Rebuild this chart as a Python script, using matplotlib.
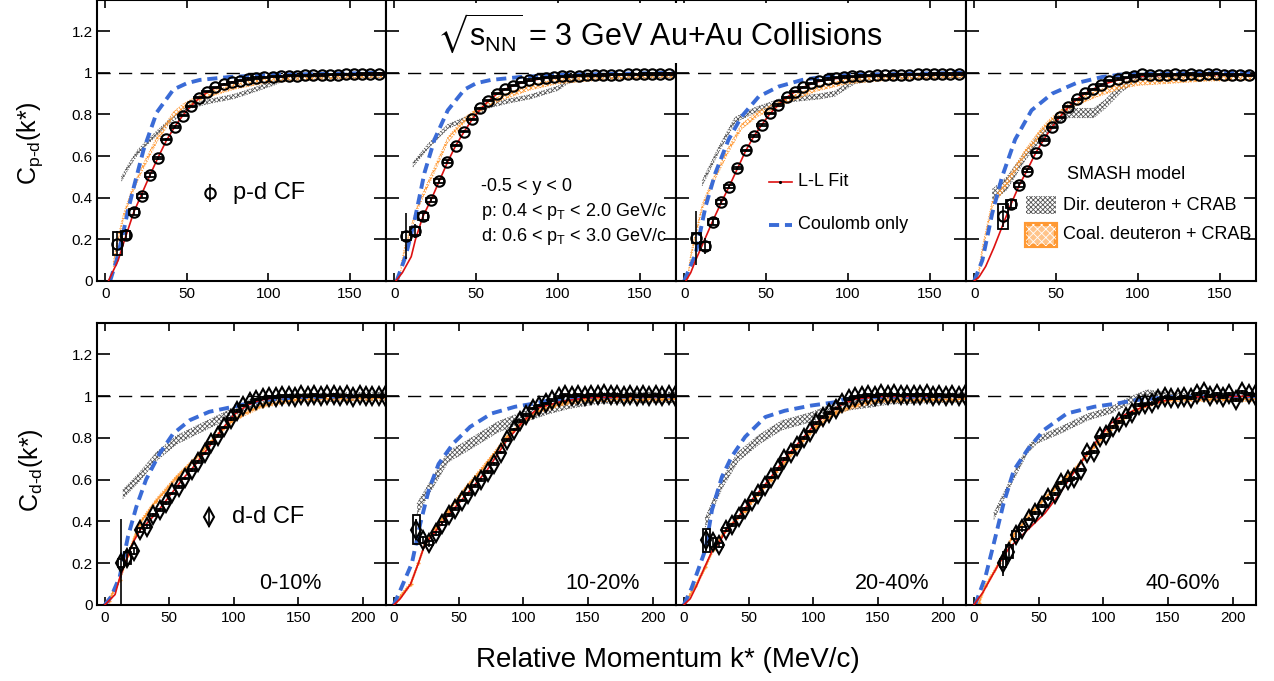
import numpy as np
import matplotlib.pyplot as plt
from matplotlib.patches import Rectangle

plt.rcParams['font.family'] = ['Liberation Sans', 'DejaVu Sans']
plt.rcParams['mathtext.fontset'] = 'custom'
plt.rcParams['mathtext.rm'] = 'Liberation Sans'
plt.rcParams['mathtext.it'] = 'Liberation Sans:italic'
plt.rcParams['mathtext.default'] = 'regular'
plt.rcParams['mathtext.fallback'] = 'stixsans'
plt.rcParams['hatch.linewidth'] = 0.6

centralities = ['0-10%', '10-20%', '20-40%', '40-60%']

# ---------------- p-d correlation functions ----------------
pd_k = [7.5, 12.5, 17.5, 22.5, 27.5, 32.5, 37.5, 42.5, 47.5, 52.5, 57.5, 62.5, 67.5,
        72.5, 77.5, 82.5, 87.5, 92.5, 97.5, 102.5, 107.5, 112.5, 117.5, 122.5, 127.5,
        132.5, 137.5, 142.5, 147.5, 152.5, 157.5, 162.5, 167.5]
nan = np.nan
pd_c_0_10 = [0.18, 0.22, 0.33, 0.41, 0.51, 0.59, 0.68, 0.74, 0.795, 0.84, 0.88, 0.91, 0.93,
             0.945, 0.955, 0.963, 0.97, 0.975, 0.979, 0.982, 0.984, 0.986, 0.987, 0.988,
             0.989, 0.99, 0.991, 0.992, 0.993, 0.993, 0.994, 0.994, 0.995]
pd_c_10_20 = [0.216, 0.24, 0.31, 0.39, 0.48, 0.574, 0.65, 0.718, 0.777, 0.83, 0.867, 0.899,
              0.921, 0.939, 0.955, 0.966, 0.972, 0.977, 0.98, 0.983, 0.985, 0.987, 0.988,
              0.989, 0.99, 0.991, 0.992, 0.993, 0.993, 0.994, 0.994, 0.995, 0.995]
pd_c_20_40 = [0.207, 0.168, 0.285, 0.381, 0.453, 0.542, 0.627, 0.697, 0.75, 0.806, 0.846,
              0.883, 0.91, 0.931, 0.95, 0.963, 0.97, 0.977, 0.98, 0.983, 0.985, 0.987, 0.988,
              0.989, 0.99, 0.991, 0.992, 0.993, 0.993, 0.994, 0.994, 0.995, 0.995]
pd_c_40_60 = [nan, nan, 0.31, 0.37, 0.46, 0.53, 0.617, 0.678, 0.739, 0.787, 0.838, 0.873,
              0.902, 0.921, 0.942, 0.962, 0.97, 0.978, 0.985, 0.993, 0.99, 0.992, 0.99,
              0.993, 0.991, 0.994, 0.99, 0.995, 0.996, 0.992, 0.99, 0.991, 0.988]
pd_stat_0_10 = [0.06, 0.03, 0.015, 0.012, 0.01, 0.008, 0.007, 0.006] + [0.004] * 25
pd_stat_10_20 = [0.11, 0.035, 0.015, 0.012, 0.01, 0.008, 0.007, 0.006] + [0.004] * 25
pd_stat_20_40 = [0.13, 0.04, 0.015, 0.012, 0.01, 0.008, 0.007, 0.006] + [0.004] * 25
pd_stat_40_60 = [nan, nan, 0.05, 0.02, 0.012, 0.01, 0.008, 0.006] + [0.004] * 25
pd_sys_0_10 = [0.055, 0.02, 0.015, 0.01, 0.008, 0.006] + [0.003] * 27
pd_sys_10_20 = [0.02, 0.02, 0.015, 0.01, 0.008, 0.006] + [0.003] * 27
pd_sys_20_40 = [0.025, 0.02, 0.015, 0.01, 0.008, 0.006] + [0.003] * 27
pd_sys_40_60 = [nan, nan, 0.06, 0.02, 0.01, 0.006] + [0.003] * 27

# L-L fit (red) for p-d
pd_fit_k = [[2, 5, 8, 12, 17.5, 22.5, 27.5, 32.5, 37.5, 42.5, 47.5, 52.5, 57.5, 62.5, 67.5, 72.5, 80, 90, 100, 120, 140, 170],
            [1, 5, 10.4, 13, 17.5, 22.5, 27.5, 32.5, 37.5, 42.5, 47.5, 52.5, 57.5, 62.5, 67.5, 72.5, 80, 90, 100, 120, 140, 170],
            [1, 4, 7, 12, 17.5, 22.5, 27.5, 32.5, 37.5, 42.5, 47.5, 52.5, 57.5, 62.5, 67.5, 72.5, 80, 90, 100, 120, 140, 170],
            [0, 3, 7, 12, 17, 22.5, 27.5, 32.5, 37.5, 42.5, 47.5, 52.5, 57.5, 62.5, 67.5, 72.5, 80, 90, 100, 120, 140, 170]]
pd_fit_c = [[0, 0.05, 0.1, 0.2, 0.33, 0.42, 0.51, 0.595, 0.675, 0.74, 0.795, 0.84, 0.878, 0.907, 0.928, 0.943, 0.96, 0.972, 0.98, 0.987, 0.991, 0.995],
            [0, 0.04, 0.117, 0.2, 0.31, 0.39, 0.48, 0.57, 0.65, 0.715, 0.775, 0.825, 0.865, 0.897, 0.92, 0.938, 0.958, 0.972, 0.98, 0.988, 0.992, 0.995],
            [0, 0.04, 0.1, 0.19, 0.29, 0.375, 0.455, 0.54, 0.625, 0.695, 0.752, 0.805, 0.846, 0.882, 0.908, 0.93, 0.955, 0.97, 0.98, 0.988, 0.992, 0.995],
            [0, 0.02, 0.07, 0.16, 0.26, 0.37, 0.46, 0.535, 0.615, 0.68, 0.74, 0.79, 0.835, 0.872, 0.9, 0.922, 0.948, 0.97, 0.982, 0.99, 0.992, 0.99]]

# Coulomb only (blue dashed) for p-d
pd_coul_k = [[3, 7, 11, 14, 17.5, 23.5, 31.6, 41.8, 50, 58, 76, 100, 170],
             [1.5, 7, 12.4, 18.5, 24.6, 32.7, 42.9, 50, 59, 77, 100, 170],
             [0, 7, 13, 19, 27, 35, 45.5, 57.6, 72, 84, 100, 170],
             [0, 5, 11, 17, 25, 35, 47.5, 62, 78, 88, 100, 170]]
pd_coul_c = [[0, 0.1, 0.23, 0.34, 0.45, 0.63, 0.81, 0.92, 0.95, 0.966, 0.98, 0.99, 1.0],
             [0, 0.12, 0.29, 0.52, 0.68, 0.82, 0.92, 0.95, 0.966, 0.98, 0.99, 1.0],
             [0, 0.13, 0.357, 0.518, 0.678, 0.79, 0.886, 0.934, 0.966, 0.98, 0.99, 1.0],
             [0, 0.1, 0.325, 0.5, 0.68, 0.82, 0.9, 0.95, 0.98, 0.99, 0.995, 1.0]]

# SMASH direct deuteron + CRAB (gray band) for p-d
pd_dir_k = [[10, 15, 20, 25, 31.6, 40, 52, 65, 78.6, 90, 103, 110, 170],
            [11.4, 20.5, 32.7, 47, 57, 70, 83.5, 100, 106, 120, 170],
            [11, 21, 31, 43.5, 61, 82, 92, 104, 120, 170],
            [11, 20, 31, 41, 52, 57, 73, 80, 90, 100, 120, 170]]
pd_dir_c = [[0.49, 0.56, 0.62, 0.66, 0.71, 0.77, 0.84, 0.865, 0.886, 0.915, 0.95, 0.975, 0.99],
            [0.558, 0.646, 0.742, 0.79, 0.84, 0.865, 0.886, 0.926, 0.96, 0.98, 0.99],
            [0.47, 0.63, 0.774, 0.822, 0.87, 0.886, 0.9, 0.96, 0.98, 0.99],
            [0.41, 0.47, 0.6, 0.7, 0.785, 0.807, 0.807, 0.85, 0.93, 0.972, 0.985, 0.99]]
pd_dir_w = [0.01, 0.01, 0.012,
            [0.03, 0.03, 0.02, 0.02, 0.025, 0.022, 0.022, 0.02, 0.02, 0.008, 0.005, 0.005]]

# SMASH coalescence deuteron + CRAB (orange band) for p-d
pd_coal_k = [[5, 7, 11.2, 16, 21.4, 31.7, 41.8, 48, 55, 65, 80, 100, 130, 170],
             [4, 6.3, 14.4, 22.6, 32.7, 43, 51, 65, 83, 100, 130, 170],
             [2, 4, 11, 17, 27, 35, 45.5, 55.6, 65, 81, 100, 130, 170],
             [2, 5, 11, 21, 31, 41, 47, 60, 75, 90, 100, 120, 140, 170]]
pd_coal_c = [[0.08, 0.17, 0.31, 0.42, 0.52, 0.68, 0.8, 0.84, 0.87, 0.9, 0.935, 0.965, 0.98, 0.99],
             [0.06, 0.15, 0.357, 0.5, 0.678, 0.774, 0.82, 0.88, 0.93, 0.96, 0.98, 0.99],
             [0.0, 0.12, 0.357, 0.47, 0.63, 0.742, 0.806, 0.84, 0.875, 0.925, 0.96, 0.98, 0.99],
             [0.0, 0.15, 0.37, 0.485, 0.614, 0.72, 0.77, 0.85, 0.9, 0.94, 0.955, 0.965, 0.975, 0.98]]
pd_coal_w = [0.012, 0.012, 0.012, 0.015]

# ---------------- d-d correlation functions ----------------
dd_k = [12.5, 17.5, 22.5, 27.5, 32.5, 37.5, 42.5, 47.5, 52.5, 57.5, 62.5, 67.5, 72.5, 77.5,
        82.5, 87.5, 92.5, 97.5, 102.5, 107.5, 112.5, 117.5, 122.5, 127.5, 132.5, 137.5,
        142.5, 147.5, 152.5, 157.5, 162.5, 167.5, 172.5, 177.5, 182.5, 187.5, 192.5,
        197.5, 202.5, 207.5, 212.5, 217.5]
dd_c_0_10 = [0.2, 0.225, 0.26, 0.36, 0.375, 0.43, 0.455, 0.487, 0.534, 0.566, 0.606, 0.646,
             0.686, 0.726, 0.774, 0.81, 0.85, 0.89, 0.93, 0.955, 0.97, 0.983, 0.992, 0.997,
             0.995, 1.0, 1.002, 0.998, 1.003, 1.0, 1.004, 0.999, 1.003, 1.006, 1.0, 1.003,
             0.998, 1.003, 1.0, 1.002, 0.999, 1.002]
dd_c_10_20 = [nan, 0.36, 0.31, 0.295, 0.343, 0.39, 0.43, 0.46, 0.5, 0.53, 0.57, 0.6, 0.636,
              0.676, 0.73, 0.79, 0.84, 0.88, 0.91, 0.94, 0.955, 0.965, 0.98, 0.995, 1.005,
              1.0, 1.005, 1.0, 1.006, 1.003, 1.008, 1.004, 1.006, 1.002, 1.005, 1.0, 1.004,
              1.001, 1.005, 1.0, 1.003, 1.001]
dd_c_20_40 = [nan, 0.31, 0.3, 0.286, 0.36, 0.383, 0.42, 0.46, 0.5, 0.53, 0.57, 0.61, 0.65,
              0.7, 0.73, 0.76, 0.8, 0.83, 0.87, 0.9, 0.92, 0.94, 0.965, 0.985, 0.995, 1.0,
              1.005, 1.002, 1.008, 1.004, 1.008, 1.003, 1.007, 1.004, 1.006, 1.008, 1.002,
              1.006, 1.0, 1.005, 1.0, 1.003]
dd_c_40_60 = [nan, nan, 0.2, 0.255, 0.335, 0.365, 0.41, 0.44, 0.475, 0.51, 0.53, 0.585, 0.6,
              0.606, 0.646, 0.726, 0.734, 0.805, 0.813, 0.853, 0.877, 0.9, 0.917, 0.957,
              0.96, 0.965, 0.984, 0.994, 0.99, 0.989, 0.995, 0.99, 1.01, 1.02, 1.0, 1.01,
              0.995, 1.01, 0.98, 1.02, 1.01, 1.005]
dd_stat_0_10 = [0.21, 0.04, 0.02, 0.015, 0.012, 0.01] + [0.007] * 36
dd_stat_10_20 = [nan, 0.05, 0.02, 0.015, 0.012, 0.01] + [0.007] * 36
dd_stat_20_40 = [nan, 0.05, 0.02, 0.015, 0.012, 0.01] + [0.007] * 36
dd_stat_40_60 = [nan, nan, 0.06, 0.03, 0.02, 0.015] + [0.01] * 36
dd_sys_0_10 = [0.02, 0.03, 0.015, 0.01, 0.008, 0.006] + [0.004] * 36
dd_sys_10_20 = [nan, 0.07, 0.015, 0.01, 0.008, 0.006] + [0.004] * 36
dd_sys_20_40 = [nan, 0.055, 0.02, 0.01, 0.008, 0.006] + [0.004] * 36
dd_sys_40_60 = [nan, nan, 0.02, 0.03, 0.02, 0.008] + [0.004] * 36

dd_fit_k = [[0, 8, 11.6, 17, 22, 27.5, 32.5, 40, 50, 60, 70, 80, 90, 100, 110, 120, 130, 140, 160, 220],
            [0, 5, 13, 19, 24, 32, 42, 57, 72, 87, 100, 112, 130, 150, 220],
            [0, 5, 10.5, 16, 22, 27.5, 32, 42, 52, 62, 72, 82, 92, 102, 112, 122, 132, 150, 220],
            [0, 7, 19.6, 27, 35, 45, 55, 66, 79, 93, 106, 119, 132, 145, 160, 220]]
dd_fit_c = [[0, 0.05, 0.13, 0.22, 0.3, 0.36, 0.39, 0.44, 0.52, 0.6, 0.67, 0.75, 0.835, 0.91, 0.955, 0.98, 0.99, 0.995, 1.0, 1.0],
            [0, 0.03, 0.1, 0.2, 0.29, 0.35, 0.43, 0.535, 0.645, 0.785, 0.88, 0.945, 0.975, 0.993, 1.0],
            [0, 0.03, 0.1, 0.18, 0.26, 0.3, 0.35, 0.42, 0.5, 0.57, 0.65, 0.73, 0.8, 0.87, 0.92, 0.96, 0.985, 0.998, 1.0],
            [0, 0.06, 0.2, 0.27, 0.32, 0.38, 0.44, 0.53, 0.65, 0.77, 0.87, 0.92, 0.95, 0.975, 0.995, 1.0]]

dd_coul_k = [[0, 5, 11.6, 18, 24.5, 32, 42.6, 53, 66, 81, 99.5, 112, 122, 150, 220],
             [0, 5, 14, 20.5, 27, 34.6, 46, 59, 75.6, 93.6, 109, 120, 150, 220],
             [0, 6, 16.6, 21.8, 29.5, 37, 47.4, 63, 78, 98.6, 116, 124, 150, 220],
             [1, 9, 15.5, 23, 31, 41.4, 54, 72, 93, 111, 124, 150, 220]]
dd_coul_c = [[0, 0.04, 0.135, 0.327, 0.47, 0.6, 0.726, 0.82, 0.885, 0.925, 0.949, 0.966, 0.98, 0.995, 1.0],
             [0, 0.07, 0.2, 0.39, 0.55, 0.675, 0.774, 0.853, 0.917, 0.949, 0.965, 0.98, 0.995, 1.0],
             [0, 0.08, 0.263, 0.455, 0.614, 0.71, 0.805, 0.9, 0.93, 0.955, 0.97, 0.985, 0.995, 1.0],
             [0, 0.135, 0.295, 0.486, 0.646, 0.742, 0.837, 0.917, 0.949, 0.965, 0.98, 0.995, 1.0]]

dd_dir_k = [[14, 27, 40, 55.6, 71, 92, 104.5, 115, 140, 220],
            [18, 29.5, 42, 55, 68, 80.6, 100, 119.5, 135, 158, 220],
            [16.6, 29.5, 42, 57.7, 75.6, 98.6, 111, 127, 145, 160, 220],
            [15.5, 28, 41.4, 49, 67, 88, 106, 124, 134, 145, 160, 220]]
dd_dir_c = [[0.53, 0.614, 0.71, 0.79, 0.837, 0.9, 0.94, 0.97, 0.99, 1.0],
            [0.46, 0.58, 0.71, 0.756, 0.805, 0.853, 0.9, 0.94, 0.965, 0.99, 0.995],
            [0.395, 0.58, 0.71, 0.79, 0.86, 0.9, 0.93, 0.955, 0.97, 0.985, 0.995],
            [0.425, 0.582, 0.742, 0.79, 0.837, 0.9, 0.933, 0.99, 1.015, 1.005, 0.997, 0.995]]
dd_dir_w = [0.02, 0.025, 0.022, 0.015]

dd_coal_k = [[3, 11.6, 18, 27, 40, 55.6, 73.6, 92, 104.5, 122, 150, 220],
             [0, 13, 19, 24, 32, 42, 57, 72, 87, 100, 112, 130, 150, 220],
             [0, 9, 16.6, 23, 32, 47, 67, 87, 102, 117, 132, 150, 220],
             [4, 9, 19.6, 30, 46, 61, 77, 93, 109, 124, 140, 160, 220]]
dd_coal_c = [[0.02, 0.12, 0.24, 0.39, 0.5, 0.61, 0.72, 0.845, 0.905, 0.955, 0.985, 0.99],
             [0, 0.1, 0.2, 0.29, 0.37, 0.45, 0.57, 0.68, 0.8, 0.876, 0.93, 0.965, 0.985, 0.985],
             [0, 0.09, 0.18, 0.27, 0.355, 0.45, 0.6, 0.75, 0.85, 0.92, 0.955, 0.98, 0.985],
             [0.01, 0.09, 0.2, 0.33, 0.45, 0.55, 0.64, 0.76, 0.86, 0.93, 0.97, 0.985, 0.985]]
dd_coal_w = [0.01, 0.01, 0.01, 0.01]

pd_c = [pd_c_0_10, pd_c_10_20, pd_c_20_40, pd_c_40_60]
pd_stat = [pd_stat_0_10, pd_stat_10_20, pd_stat_20_40, pd_stat_40_60]
pd_sys = [pd_sys_0_10, pd_sys_10_20, pd_sys_20_40, pd_sys_40_60]
dd_c = [dd_c_0_10, dd_c_10_20, dd_c_20_40, dd_c_40_60]
dd_stat = [dd_stat_0_10, dd_stat_10_20, dd_stat_20_40, dd_stat_40_60]
dd_sys = [dd_sys_0_10, dd_sys_10_20, dd_sys_20_40, dd_sys_40_60]

RED = '#dd1111'
BLUE = '#3a6bd6'
GRAY = '#555555'
ORANGE = '#ff9933'

W, H = 1274, 681
fig = plt.figure(figsize=(W / 100, H / 100), dpi=100)
edges = [97, 386, 676, 966, 1256]


def make_axes(x0, x1, y0, y1):
    return fig.add_axes([x0 / W, 1 - y1 / H, (x1 - x0) / W, (y1 - y0) / H])


def draw_band(ax, k, c, w, color):
    k = np.asarray(k, float)
    c = np.asarray(c, float)
    w = np.asarray(w, float)
    ax.fill_between(k, c - w, c + w, facecolor='none', edgecolor=color,
                    hatch='xxxxxxx', linewidth=0, zorder=1)
    ax.plot(k, c - w, color=color, lw=0.7, ls=':', zorder=1)
    ax.plot(k, c + w, color=color, lw=0.7, ls=':', zorder=1)


def draw_points(ax, k, c, stat, sys, marker, ms, bw):
    k = np.asarray(k, float)
    c = np.asarray(c, float)
    stat = np.asarray(stat, float)
    sys = np.asarray(sys, float)
    ok = ~np.isnan(c)
    for ki, ci, si in zip(k[ok], c[ok], sys[ok]):
        ax.add_patch(Rectangle((ki - bw, ci - si), 2 * bw, 2 * si, fill=False,
                               ec='black', lw=1.3, zorder=5))
    ax.errorbar(k[ok], c[ok], yerr=stat[ok], fmt=marker, ms=ms, mfc='none', mec='black',
                mew=1.5, ecolor='black', elinewidth=1.2, capsize=0, zorder=6)


def style_axes(ax, xlim, xticks, show_y):
    ax.set_xlim(*xlim)
    ax.set_ylim(0, 1.35)
    ax.set_xticks(xticks)
    ax.set_xticklabels([str(t) for t in xticks])
    ax.set_yticks([0, 0.2, 0.4, 0.6, 0.8, 1.0, 1.2])
    ax.set_yticklabels(['0', '0.2', '0.4', '0.6', '0.8', '1', '1.2'])
    ax.tick_params(axis='y', direction='in', length=9, width=1.2, left=True, right=True,
                   labelleft=show_y, labelsize=11, pad=3)
    ax.tick_params(axis='x', direction='in', length=6, width=1.2, bottom=True, top=True,
                   labelsize=11, pad=4)
    for s in ax.spines.values():
        s.set_linewidth(1.5)
    ax.axhline(1.0, color='black', lw=1.0, dashes=(9.5, 6), zorder=1.5)


for i in range(4):
    # top row: p-d
    ax = make_axes(edges[i], edges[i + 1], 0, 281)
    style_axes(ax, (-5, 172), [0, 50, 100, 150], i == 0)
    draw_band(ax, pd_dir_k[i], pd_dir_c[i], pd_dir_w[i], GRAY)
    draw_band(ax, pd_coal_k[i], pd_coal_c[i], pd_coal_w[i], ORANGE)
    ax.plot(pd_coul_k[i], pd_coul_c[i], color=BLUE, lw=2.8, dashes=(2.6, 1.5), zorder=2)
    ax.plot(pd_fit_k[i], pd_fit_c[i], color=RED, lw=1.2, zorder=3)
    draw_points(ax, pd_k, pd_c[i], pd_stat[i], pd_sys[i], 'o', 7.5, 3.0)

    if i == 0:
        ax.errorbar([64], [0.423], yerr=[0.045], fmt='o', ms=7.5, mfc='none', mec='black',
                    mew=1.5, ecolor='black', elinewidth=1.2, capsize=0)
        ax.text(78, 0.423, 'p-d CF', fontsize=17, va='center', ha='left')
    if i == 1:
        ax.text(53, 0.452, '-0.5 < y < 0', fontsize=13, va='center')
        ax.text(53, 0.333, 'p: 0.4 < p$_{T}$ < 2.0 GeV/c', fontsize=13, va='center')
        ax.text(53, 0.216, 'd: 0.6 < p$_{T}$ < 3.0 GeV/c', fontsize=13, va='center')
    if i == 2:
        ax.plot([51.5, 65.5], [0.476, 0.476], color=RED, lw=1.2)
        ax.plot([58.5], [0.476], marker='.', color='black', ms=2.5)
        ax.text(69.7, 0.476, 'L-L Fit', fontsize=13, va='center')
        ax.plot([51.5, 65.5], [0.27, 0.27], color=BLUE, lw=2.8, dashes=(2.6, 1.5))
        ax.text(69.7, 0.27, 'Coulomb only', fontsize=13, va='center')
    if i == 3:
        ax.text(56.4, 0.51, 'SMASH model', fontsize=13, va='center')
        ax.add_patch(Rectangle((31.5, 0.32), 18.2, 0.09, facecolor='none', edgecolor=GRAY,
                               hatch='xxxxxxx', lw=0, zorder=7))
        ax.text(54.5, 0.365, 'Dir. deuteron + CRAB', fontsize=13, va='center')
        ax.add_patch(Rectangle((31.5, 0.17), 18.2, 0.105, facecolor='#ffc48a',
                               edgecolor=ORANGE, lw=3, zorder=7))
        ax.add_patch(Rectangle((31.5, 0.17), 18.2, 0.105, facecolor='none',
                               edgecolor='white', hatch='xxxx', lw=0, zorder=8))
        ax.text(54.5, 0.222, 'Coal. deuteron + CRAB', fontsize=13, va='center')

    # bottom row: d-d
    ax = make_axes(edges[i], edges[i + 1], 323, 605)
    style_axes(ax, (-6, 218), [0, 50, 100, 150, 200], i == 0)
    draw_band(ax, dd_dir_k[i], dd_dir_c[i], dd_dir_w[i], GRAY)
    draw_band(ax, dd_coal_k[i], dd_coal_c[i], dd_coal_w[i], ORANGE)
    ax.plot(dd_coal_k[i], dd_coal_c[i], color=ORANGE, lw=1.0, marker='+', ms=3, zorder=1)
    ax.plot(dd_coul_k[i], dd_coul_c[i], color=BLUE, lw=2.8, dashes=(2.6, 1.5), zorder=2)
    ax.plot(dd_fit_k[i], dd_fit_c[i], color=RED, lw=1.2, zorder=3)
    draw_points(ax, dd_k, dd_c[i], dd_stat[i], dd_sys[i], 'd', 9, 2.6)
    ax.text([0.668, 0.748, 0.745, 0.748][i], 0.078, centralities[i], fontsize=15.5,
            ha='center', va='center', transform=ax.transAxes)
    if i == 0:
        ax.errorbar([81], [0.42], yerr=[0.045], fmt='d', ms=9, mfc='none', mec='black',
                    mew=1.5, ecolor='black', elinewidth=1.2, capsize=0)
        ax.text(99, 0.42, 'd-d CF', fontsize=17, va='center', ha='left')

fig.text(0.518, 1 - 33 / H, r'$\sqrt{s_{NN}}$ = 3 GeV Au+Au Collisions', fontsize=22,
         ha='center', va='center',
         bbox=dict(facecolor='white', edgecolor='none', pad=6))
fig.text(0.024, 1 - 143 / H, 'C$_{p\u2010d}$(k*)', fontsize=18, rotation=90,
         ha='center', va='center')
fig.text(0.024, 1 - 470 / H, 'C$_{d\u2010d}$(k*)', fontsize=18, rotation=90,
         ha='center', va='center')
fig.text(0.524, 1 - 660 / H, 'Relative Momentum k* (MeV/c)', fontsize=20,
         ha='center', va='center')

fig.savefig('out.png', dpi=100)
